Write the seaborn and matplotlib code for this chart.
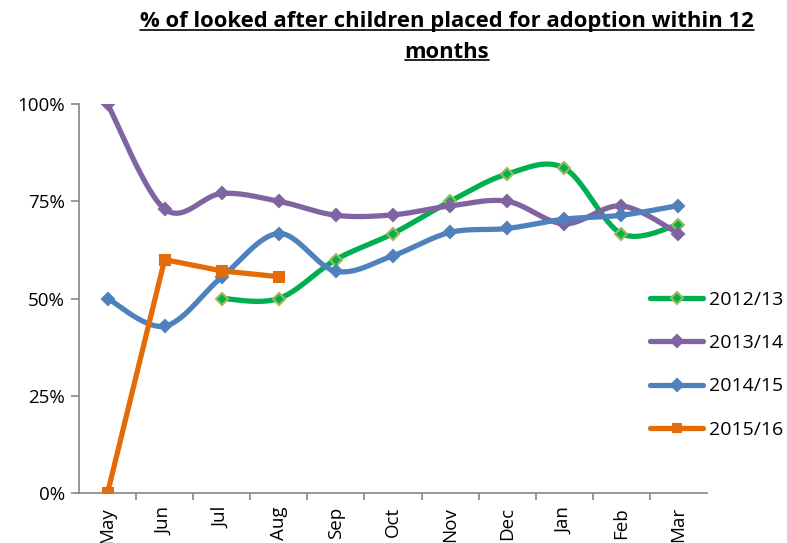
import numpy as np
import pandas as pd
import matplotlib
matplotlib.use("Agg")
import matplotlib.pyplot as plt
from matplotlib.lines import Line2D
import seaborn as sns

months = ["May", "Jun", "Jul", "Aug", "Sep", "Oct", "Nov", "Dec", "Jan", "Feb", "Mar"]
s2012 = [None, None, 50.0, 50.0, 60.0, 66.7, 75.0, 82.0, 83.5, 66.7, 69.0]
s2013 = [100.0, 73.0, 77.0, 75.0, 71.4, 71.5, 73.8, 75.0, 69.2, 73.8, 66.7]
s2014 = [50.0, 42.9, 55.5, 66.7, 57.0, 61.0, 67.0, 68.0, 70.4, 71.4, 73.9]
s2015 = [0.0, 60.0, 57.1, 55.6, None, None, None, None, None, None, None]
series_names = ["2012/13", "2013/14", "2014/15", "2015/16"]
yticks = [0, 25, 50, 75, 100]
ytick_labels = ["0%", "25%", "50%", "75%", "100%"]
title_line1 = "% of looked after children placed for adoption within 12"
title_line2 = "months"

colors = {"2012/13": "#00B050", "2013/14": "#8064A2", "2014/15": "#4F81BD", "2015/16": "#E36C09"}
smooth = {"2012/13": True, "2013/14": True, "2014/15": True, "2015/16": False}
markers = {"2012/13": "D", "2013/14": "D", "2014/15": "D", "2015/16": "s"}
medge = {"2012/13": "#9BBB59", "2013/14": "#8064A2", "2014/15": "#4F81BD", "2015/16": "#E36C09"}

sns.set_theme(style="white")
plt.rcParams['font.family'] = ['Open Sans', 'DejaVu Sans']
plt.rcParams['text.color'] = 'black'

fig = plt.figure(figsize=(7.87, 5.43), dpi=100)
ax = fig.add_axes([79 / 787, (543 - 493) / 543, (707 - 79) / 787, (493 - 104) / 543])


def excel_smooth(x, y, n=30):
    x = np.asarray(x, float)
    y = np.asarray(y, float)
    px, py = [], []
    m = len(x)
    for i in range(m - 1):
        x0, y0 = (x[i - 1], y[i - 1]) if i > 0 else (x[i], y[i])
        x3, y3 = (x[i + 2], y[i + 2]) if i + 2 < m else (x[i + 1], y[i + 1])
        p1 = np.array([x[i], y[i]])
        p2 = np.array([x[i + 1], y[i + 1]])
        c1 = p1 + (p2 - np.array([x0, y0])) / 6.0
        c2 = p2 - (np.array([x3, y3]) - p1) / 6.0
        t = np.linspace(0, 1, n)[:, None]
        b = ((1 - t) ** 3) * p1 + 3 * ((1 - t) ** 2) * t * c1 + 3 * (1 - t) * t ** 2 * c2 + t ** 3 * p2
        if i > 0:
            b = b[1:]
        px.extend(b[:, 0])
        py.extend(b[:, 1])
    return np.array(px), np.array(py)


data = {"2012/13": s2012, "2013/14": s2013, "2014/15": s2014, "2015/16": s2015}
handles = []
for name in series_names:
    vals = data[name]
    xs = [i for i, v in enumerate(vals) if v is not None]
    ys = [v / 100.0 for v in vals if v is not None]
    if smooth[name]:
        cx, cy = excel_smooth(xs, ys)
    else:
        cx, cy = np.array(xs, float), np.array(ys, float)
    df_line = pd.DataFrame({"x": cx, "y": cy})
    sns.lineplot(data=df_line, x="x", y="y", ax=ax, color=colors[name], linewidth=3.8,
                 sort=False, estimator=None, solid_capstyle="round", solid_joinstyle="round")
    df_pts = pd.DataFrame({"x": xs, "y": ys})
    ax.plot(df_pts["x"], df_pts["y"], linestyle="none", marker=markers[name], markersize=6.5,
            markerfacecolor=colors[name], markeredgecolor=medge[name], markeredgewidth=1.5, zorder=5)
    handles.append(Line2D([0], [0], color=colors[name], linewidth=3.8, marker=markers[name],
                          markersize=6, markerfacecolor=colors[name], markeredgecolor=medge[name],
                          markeredgewidth=1.5, solid_capstyle="round"))

ax.set_xlim(-0.5, len(months) - 0.5)
ax.set_ylim(0, 1)
ax.set_yticks([v / 100 for v in yticks])
ax.set_yticklabels(ytick_labels, fontsize=13.5)
ax.set_xticks(range(len(months)))
ax.set_xticklabels(months, rotation=90, fontsize=13.5)
ax.set_xticks(np.arange(0.5, len(months) - 0.5, 1.0), minor=True)
ax.set_xlabel("")
ax.set_ylabel("")
for sp in ["top", "right"]:
    ax.spines[sp].set_visible(False)
for sp in ["left", "bottom"]:
    ax.spines[sp].set_color("#868686")
    ax.spines[sp].set_linewidth(1.2)
ax.tick_params(axis="y", which="major", left=True, length=6, color="#868686", width=1.2, pad=4,
               labelcolor="black")
ax.tick_params(axis="x", which="major", bottom=False, pad=4, labelcolor="black")
ax.tick_params(axis="x", which="minor", bottom=True, length=5, color="#868686", width=1.2)
ax.set_facecolor("white")

leg = ax.legend(handles, series_names, loc="upper left", bbox_to_anchor=(642 / 787, 1 - 283 / 543),
                bbox_transform=fig.transFigure, frameon=False, fontsize=14,
                handlelength=2.75, handletextpad=0.3, labelspacing=1.3, borderaxespad=0)
for txt in leg.get_texts():
    txt.set_color("black")

t1 = fig.text(447 / 787, 1 - 22 / 543, title_line1, ha="center", va="center", fontsize=15.8,
              fontweight="bold", color="black")
t2 = fig.text(447 / 787, 1 - 52 / 543, title_line2, ha="center", va="center", fontsize=15.8,
              fontweight="bold", color="black")

fig.canvas.draw()
r = fig.canvas.get_renderer()
inv = fig.transFigure.inverted()
for t in (t1, t2):
    bb = t.get_window_extent(r)
    (x0, y0), (x1, y1) = inv.transform([(bb.x0, bb.y0), (bb.x1, bb.y1)])
    fig.add_artist(Line2D([x0, x1], [y0 + 2.5 / 543, y0 + 2.5 / 543], color="black", linewidth=1.2,
                          transform=fig.transFigure))

fig.savefig("out.png", dpi=100, facecolor="white")
